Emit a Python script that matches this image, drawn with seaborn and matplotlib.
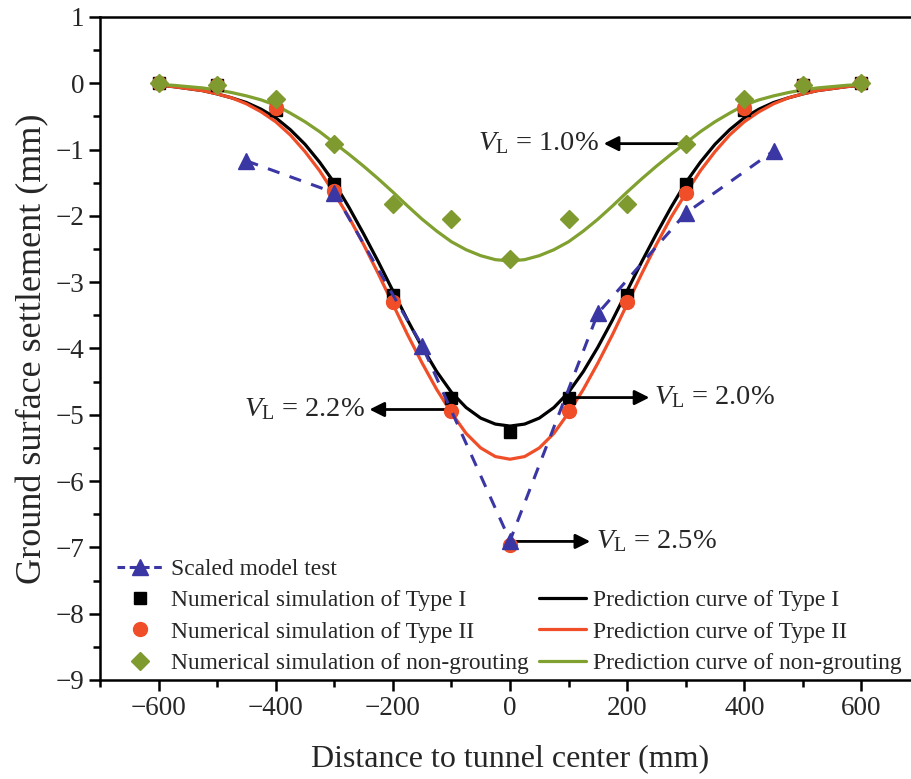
import numpy as np
import pandas as pd
import matplotlib
matplotlib.use("Agg")
import matplotlib.pyplot as plt
from matplotlib.lines import Line2D
from matplotlib.ticker import MultipleLocator
import seaborn as sns

# ---------------- data ----------------
sim_x = [-600, -500, -400, -300, -200, -100, 0, 100, 200, 300, 400, 500, 600]
type1_sim = [0.0, -0.02, -0.41, -1.52, -3.20, -4.74, -5.26, -4.74, -3.20, -1.52, -0.41, -0.02, 0.0]
type2_sim = [0.0, -0.02, -0.37, -1.63, -3.30, -4.95, -6.96, -4.95, -3.30, -1.66, -0.38, -0.02, 0.0]
nongrout_sim = [0.0, -0.02, -0.23, -0.91, -1.82, -2.05, -2.65, -2.05, -1.82, -0.91, -0.23, -0.02, 0.0]

test_x = [-450, -300, -150, 0, 150, 300, 450]
test_y = [-1.17, -1.65, -3.96, -6.90, -3.47, -1.96, -1.02]

curve_x = [-600, -575, -550, -525, -500, -475, -450, -425, -400, -375, -350, -325, -300,
           -275, -250, -225, -200, -175, -150, -125, -100, -75, -50, -25, 0,
           25, 50, 75, 100, 125, 150, 175, 200, 225, 250, 275, 300,
           325, 350, 375, 400, 425, 450, 475, 500, 525, 550, 575, 600]
type1_curve = [-0.03, -0.05, -0.08, -0.11, -0.16, -0.22, -0.29, -0.39, -0.52, -0.70, -0.92, -1.19, -1.50,
               -1.87, -2.27, -2.69, -3.13, -3.57, -3.98, -4.35, -4.66, -4.89, -5.05, -5.14, -5.17,
               -5.14, -5.05, -4.89, -4.66, -4.35, -3.98, -3.57, -3.13, -2.69, -2.27, -1.87, -1.50,
               -1.19, -0.92, -0.70, -0.52, -0.39, -0.29, -0.22, -0.16, -0.11, -0.08, -0.05, -0.03]
type2_curve = [-0.03, -0.05, -0.08, -0.11, -0.16, -0.22, -0.31, -0.43, -0.58, -0.78, -1.03, -1.32, -1.66,
               -2.02, -2.43, -2.87, -3.33, -3.79, -4.22, -4.62, -4.97, -5.28, -5.50, -5.63, -5.67,
               -5.63, -5.50, -5.28, -4.97, -4.62, -4.22, -3.79, -3.33, -2.87, -2.43, -2.02, -1.66,
               -1.32, -1.03, -0.78, -0.58, -0.43, -0.31, -0.22, -0.16, -0.11, -0.08, -0.05, -0.03]
nongrout_curve = [-0.02, -0.03, -0.05, -0.07, -0.10, -0.14, -0.19, -0.25, -0.33, -0.45, -0.58, -0.73, -0.90,
                  -1.07, -1.25, -1.44, -1.64, -1.85, -2.05, -2.23, -2.39, -2.51, -2.60, -2.66, -2.68,
                  -2.66, -2.60, -2.51, -2.39, -2.23, -2.05, -1.85, -1.64, -1.44, -1.25, -1.07, -0.90,
                  -0.73, -0.58, -0.45, -0.33, -0.25, -0.19, -0.14, -0.10, -0.07, -0.05, -0.03, -0.02]

labels_markers = ["Scaled model test", "Numerical simulation of Type I",
                  "Numerical simulation of Type II", "Numerical simulation of non-grouting"]
labels_curves = ["Prediction curve of Type I", "Prediction curve of Type II",
                 "Prediction curve of non-grouting"]
annot_texts = ["1.0%", "2.2%", "2.0%", "2.5%"]

# ---------------- style ----------------
sns.set_style("ticks")
plt.rcParams["font.family"] = ["Liberation Serif", "DejaVu Serif"]
plt.rcParams["mathtext.fontset"] = "custom"
plt.rcParams["mathtext.rm"] = "Liberation Serif"
plt.rcParams["mathtext.it"] = "Liberation Serif:italic"

BLUE = "#3a36a3"
RED = "#f04e28"
GREEN = "#80a030"
GREEN_M = "#7f9a2e"

fig = plt.figure(figsize=(9.12, 7.79), dpi=100)
ax = fig.add_axes([100 / 912, 99 / 779, 820 / 912, 663 / 779])

lw = 2.3
sns.lineplot(x=curve_x, y=type1_curve, ax=ax, color="black", lw=lw, sort=False, zorder=2)
sns.lineplot(x=curve_x, y=type2_curve, ax=ax, color=RED, lw=lw, sort=False, zorder=2)
sns.lineplot(x=curve_x, y=nongrout_curve, ax=ax, color=GREEN, lw=lw, sort=False, zorder=2)

ax.plot(sim_x, type1_sim, ls="none", marker="s", ms=9, color="black", zorder=3)
ax.plot(sim_x, type2_sim, ls="none", marker="o", ms=10, color=RED, zorder=3.1)
ax.plot(sim_x, nongrout_sim, ls="none", marker="D", ms=9, color=GREEN_M, zorder=3.2)
ax.plot(test_x, test_y, ls=(0, (4, 3.5)), lw=2.2, marker="^", ms=11, color=BLUE, zorder=3.3)

ax.set_xlim(-700, 700)
ax.set_ylim(-9, 1)
ax.xaxis.set_major_locator(MultipleLocator(200))
ax.xaxis.set_minor_locator(MultipleLocator(100))
ax.yaxis.set_major_locator(MultipleLocator(1))
ax.yaxis.set_minor_locator(MultipleLocator(0.5))
ax.tick_params(which="major", direction="out", length=8, width=1.8, labelsize=19.5, color="black")
ax.tick_params(which="minor", direction="out", length=5, width=1.8, color="black")
for s in ax.spines.values():
    s.set_linewidth(1.8)
    s.set_color("black")
ax.set_xlabel("Distance to tunnel center (mm)", fontsize=23, labelpad=17)
ax.set_ylabel("Ground surface settlement (mm)", fontsize=26, labelpad=4)

# annotations
arrow = dict(arrowstyle="-|>", lw=2.0, color="black", mutation_scale=22, shrinkA=0, shrinkB=0)
afs = 20.5
ax.annotate("", xy=(160, -0.91), xytext=(300, -0.91), arrowprops=arrow)
ax.text(152, -0.91, r"$V_{\mathrm{L}}$ = " + annot_texts[0], ha="right", va="center", fontsize=afs)
ax.annotate("", xy=(-240, -4.92), xytext=(-100, -4.92), arrowprops=arrow)
ax.text(-248, -4.92, r"$V_{\mathrm{L}}$ = " + annot_texts[1], ha="right", va="center", fontsize=afs)
ax.annotate("", xy=(238, -4.74), xytext=(100, -4.74), arrowprops=arrow)
ax.text(246, -4.74, r"$V_{\mathrm{L}}$ = " + annot_texts[2], ha="left", va="center", fontsize=afs)
ax.annotate("", xy=(137, -6.91), xytext=(0, -6.91), arrowprops=arrow)
ax.text(146, -6.91, r"$V_{\mathrm{L}}$ = " + annot_texts[3], ha="left", va="center", fontsize=afs)

# legend
h_test = Line2D([], [], color=BLUE, ls=(0, (2.5, 1.5)), lw=2.2, marker="^", ms=11)
h_s1 = Line2D([], [], ls="none", marker="s", ms=9, color="black")
h_s2 = Line2D([], [], ls="none", marker="o", ms=10, color=RED)
h_s3 = Line2D([], [], ls="none", marker="D", ms=9, color=GREEN_M)
h_blank = Line2D([], [], color="none")
h_c1 = Line2D([], [], color="black", lw=lw)
h_c2 = Line2D([], [], color=RED, lw=lw)
h_c3 = Line2D([], [], color=GREEN, lw=lw)
handles = [h_test, h_s1, h_s2, h_s3, h_blank, h_c1, h_c2, h_c3]
labels = labels_markers + [""] + labels_curves
leg = ax.legend(handles, labels, ncol=2, frameon=False, fontsize=16.9,
                loc="lower left", bbox_to_anchor=(0.003, -0.012),
                handlelength=2.0, handletextpad=0.3, columnspacing=0.45,
                labelspacing=0.42, borderaxespad=0.2)

fig.savefig("out.png", dpi=100, facecolor="white")
